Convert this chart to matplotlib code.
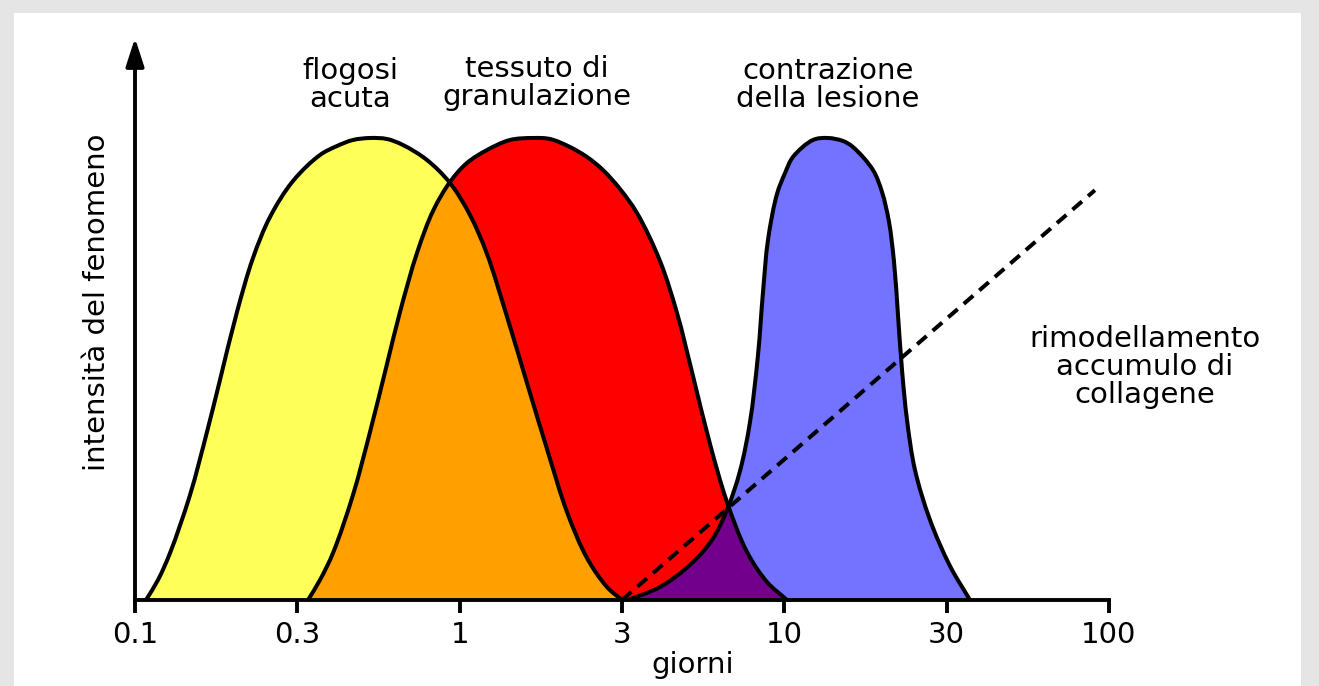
import numpy as np
import matplotlib
matplotlib.use("Agg")
import matplotlib.pyplot as plt
from matplotlib.patches import Rectangle, PathPatch
from matplotlib.path import Path

# ---------------- data ----------------
tick_values = [0.1, 0.316, 1, 3.16, 10, 31.6, 100]
tick_labels = ["0.1", "0.3", "1", "3", "10", "30", "100"]

flogosi_x = [0.1081, 0.1177, 0.1282, 0.1477, 0.1666, 0.1827, 0.2061, 0.2309,
             0.2605, 0.3066, 0.3713, 0.4190, 0.4692, 0.5295, 0.5973, 0.6690,
             0.7930, 0.9337, 1.076, 1.214, 1.379, 1.612, 1.858, 2.141, 2.467,
             2.843, 3.162]
flogosi_y = [0.0, 0.0433, 0.1017, 0.2273, 0.3636, 0.4762, 0.6234, 0.7403,
             0.8290, 0.9069, 0.9632, 0.9827, 0.9957, 1.0, 0.9978, 0.9848,
             0.9524, 0.9026, 0.8333, 0.7489, 0.6277, 0.4697, 0.3268, 0.1905,
             0.0909, 0.0281, 0.0]

granulazione_x = [0.3411, 0.3713, 0.4072, 0.4692, 0.5295, 0.5973, 0.6550, 0.7389,
                  0.8277, 0.9337, 1.053, 1.214, 1.429, 1.682, 1.898, 2.187,
                  2.467, 2.763, 3.118, 3.517, 4.140, 4.671, 5.232, 5.902,
                  6.659, 7.674, 8.843, 10.19]
granulazione_y = [0.0, 0.0433, 0.1017, 0.2273, 0.3636, 0.5108, 0.6234, 0.7511,
                  0.8420, 0.9048, 0.9459, 0.9740, 0.9957, 1.0, 0.9978, 0.9805,
                  0.9589, 0.9307, 0.8896, 0.8377, 0.7338, 0.6212, 0.4848, 0.3377,
                  0.2121, 0.1039, 0.0390, 0.0]

contrazione_x = [3.300, 4.140, 5.122, 5.987, 6.659, 7.302, 7.839, 8.296, 8.596,
                 8.906, 9.493, 10.05, 10.63, 12.25, 13.63, 15.16, 16.27, 18.75,
                 19.99, 21.01, 21.77, 22.39, 23.04, 23.87, 25.26, 28.10, 32.38,
                 37.31]
contrazione_y = [0.0, 0.0281, 0.0758, 0.1299, 0.1948, 0.2792, 0.3853, 0.5303,
                 0.6667, 0.7792, 0.8788, 0.9242, 0.9589, 0.9957, 1.0, 0.9935,
                 0.9805, 0.9307, 0.8831, 0.8182, 0.7316, 0.6169, 0.4978, 0.3896,
                 0.2814, 0.1732, 0.0736, 0.0]

rimodellamento_x = [3.162, 90.5]
rimodellamento_y = [0.0, 0.887]

# ---------------- style ----------------
plt.rcParams["font.family"] = ["DejaVu Sans"]
plt.rcParams["lines.scale_dashes"] = False
FS = 21
LW = 2.9
AXLW = 2.8
col_yellow = "#ffff5a"
col_orange = "#ff9f00"
col_red = "#ff0000"
col_blue = "#7373ff"
col_purple = "#73008c"

W, H = 1319, 686
fig = plt.figure(figsize=(W / 100, H / 100), dpi=100, facecolor="#e5e5e5")
fig.patches.append(Rectangle((14 / W, 0), (1301 - 14) / W, (H - 13) / H,
                             transform=fig.transFigure, facecolor="white",
                             edgecolor="none", zorder=-10))

ax = fig.add_axes([135 / W, 86 / H, 974 / W, 562 / H])
ax.set_facecolor("none")
ax.set_xscale("log")
ax.set_xlim(0.1, 100)
ax.set_ylim(0, 562 / 462)


def smooth_path(xs, ys, closed):
    """Centripetal Catmull-Rom curve through the read points, drawn as cubic
    Bezier segments (control points computed on screen, mapped back to data)."""
    P = ax.transData.transform(np.column_stack([xs, ys]))
    n = len(P)
    ext = np.vstack([2 * P[0] - P[1], P, 2 * P[-1] - P[-2]])
    verts = [P[0]]
    codes = [Path.MOVETO]
    for i in range(n - 1):
        p0, p1, p2, p3 = ext[i], ext[i + 1], ext[i + 2], ext[i + 3]
        d0 = max(np.hypot(*(p1 - p0)) ** 0.5, 1e-6)
        d1 = max(np.hypot(*(p2 - p1)) ** 0.5, 1e-6)
        d2 = max(np.hypot(*(p3 - p2)) ** 0.5, 1e-6)
        b1 = (d0 ** 2 * p2 - d1 ** 2 * p0 + (2 * d0 ** 2 + 3 * d0 * d1 + d1 ** 2) * p1) \
            / (3 * d0 * (d0 + d1))
        b2 = (d2 ** 2 * p1 - d1 ** 2 * p3 + (2 * d2 ** 2 + 3 * d2 * d1 + d1 ** 2) * p2) \
            / (3 * d2 * (d2 + d1))
        verts += [b1, b2, p2]
        codes += [Path.CURVE4] * 3
    if closed:
        verts += [P[0], P[0]]
        codes += [Path.LINETO, Path.CLOSEPOLY]
    V = ax.transData.inverted().transform(np.array(verts))
    return Path(V, codes)


series = {
    "flogosi": (flogosi_x, flogosi_y),
    "granulazione": (granulazione_x, granulazione_y),
    "contrazione": (contrazione_x, contrazione_y),
}

# fills
yellow = ax.add_patch(PathPatch(smooth_path(*series["flogosi"], True),
                                fc=col_yellow, ec="none", zorder=1))
red = ax.add_patch(PathPatch(smooth_path(*series["granulazione"], True),
                             fc=col_red, ec="none", zorder=2))
blue = ax.add_patch(PathPatch(smooth_path(*series["contrazione"], True),
                              fc=col_blue, ec="none", zorder=2))
orange = ax.add_patch(PathPatch(smooth_path(*series["granulazione"], True),
                                fc=col_orange, ec="none", zorder=3))
orange.set_clip_path(yellow)
purple = ax.add_patch(PathPatch(smooth_path(*series["granulazione"], True),
                                fc=col_purple, ec="none", zorder=3))
purple.set_clip_path(blue)

# outlines
for xs, ys in series.values():
    ax.add_patch(PathPatch(smooth_path(xs, ys, False), fill=False, ec="black",
                           lw=LW, zorder=4, clip_on=False, joinstyle="round",
                           capstyle="butt"))

ax.plot(rimodellamento_x, rimodellamento_y, color="black", lw=LW,
        dashes=(9, 5.8), zorder=5, clip_on=False)

# axes
for s in ["top", "right", "left"]:
    ax.spines[s].set_visible(False)
ax.spines["bottom"].set_linewidth(AXLW)
ax.spines["bottom"].set_zorder(6)
ax.spines["bottom"].set_capstyle("projecting")
ax.annotate("", xy=(0, 1), xycoords="axes fraction", xytext=(0, -0.004),
            textcoords="axes fraction",
            arrowprops=dict(arrowstyle="-|>,head_length=1.7,head_width=0.55",
                            color="black", lw=AXLW, shrinkA=0, shrinkB=0))
ax.set_yticks([])
ax.set_xticks(tick_values)
ax.set_xticklabels(tick_labels)
ax.xaxis.set_minor_locator(matplotlib.ticker.NullLocator())
ax.tick_params(axis="x", direction="out", length=9, width=AXLW, pad=6,
               labelsize=FS)

fig.text(693 / W, 1 - 665 / H, "giorni", fontsize=FS, ha="center", va="center")
fig.text(97 / W, 1 - 302 / H, "intensità del fenomeno", fontsize=FS,
         ha="center", va="center", rotation=90)

labels = [
    (350, 85, "flogosi\nacuta"),
    (537, 83, "tessuto di\ngranulazione"),
    (828, 85, "contrazione\ndella lesione"),
    (1145, 367, "rimodellamento\naccumulo di\ncollagene"),
]
for px, py, t in labels:
    fig.text(px / W, 1 - py / H, t, fontsize=FS, ha="center", va="center",
             linespacing=1.0, multialignment="center")

fig.savefig("out.png", dpi=100, facecolor=fig.get_facecolor())
